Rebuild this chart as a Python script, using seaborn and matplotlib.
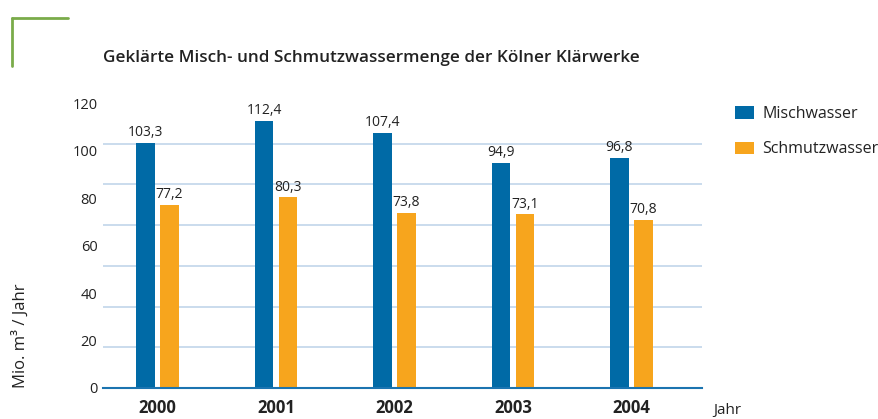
import numpy as np
import pandas as pd
import matplotlib
matplotlib.use('Agg')
import matplotlib.pyplot as plt
import seaborn as sns
from matplotlib.lines import Line2D

# chart values
years = ['2000', '2001', '2002', '2003', '2004']
mischwasser = [103.3, 112.4, 107.4, 94.9, 96.8]
schmutzwasser = [77.2, 80.3, 73.8, 73.1, 70.8]
series = ['Mischwasser', 'Schmutzwasser']
y_ticks = [0, 20, 40, 60, 80, 100, 120]

df = pd.DataFrame({
    'Jahr': years * 2,
    'Art': [series[0]] * len(years) + [series[1]] * len(years),
    'Wert': mischwasser + schmutzwasser,
})

sns.set_theme(style='white')
plt.rcParams['font.family'] = ['Open Sans', 'DejaVu Sans']
text_col = '#222222'

fig = plt.figure(figsize=(8.79, 4.19), dpi=100)
ax = fig.add_axes([0.1172, 0.074, 0.6814, 0.680])

colors = {'Mischwasser': '#006aa6', 'Schmutzwasser': '#f7a51d'}
sns.barplot(data=df, x='Jahr', y='Wert', hue='Art', palette=colors,
            width=0.405, gap=0.21, saturation=1, linewidth=0,
            ax=ax, legend=True)

ax.set_ylim(0, 120)
ax.set_xlim(-0.46, 4.595)

# the original's grid lines do not line up with the labels
ax.set_yticks(y_ticks)
ax.set_yticks(np.linspace(0, 120, 8), minor=True)
ax.grid(False)
ax.yaxis.grid(True, which='minor', color='#c6d9ec', linewidth=1.3)
ax.set_axisbelow(True)
ax.tick_params(axis='y', which='both', length=0, labelsize=10.5, labelcolor=text_col, pad=4)
ax.tick_params(axis='x', length=0, pad=8)
for lab in ax.get_xticklabels():
    lab.set_fontsize(12)
    lab.set_fontweight('bold')
    lab.set_color(text_col)
for lab in ax.get_yticklabels():
    lab.set_fontweight('medium')

for s in ['top', 'left', 'right']:
    ax.spines[s].set_visible(False)
ax.spines['bottom'].set_color('#1b74b0')
ax.spines['bottom'].set_linewidth(1.5)
ax.set_xlabel('')
ax.set_ylabel('')

for cont in ax.containers:
    labels = [f'{b.get_height():.1f}'.replace('.', ',') for b in cont]
    ax.bar_label(cont, labels=labels, padding=2, fontsize=10, color=text_col)

ax.legend(loc='upper left', bbox_to_anchor=(1.045, 1.012), frameon=False,
          fontsize=11.5, handlelength=1.2, handleheight=0.8, handletextpad=0.5,
          labelspacing=1.2, borderaxespad=0)
for t in ax.get_legend().get_texts():
    t.set_color(text_col)

fig.text(0.1172, 0.862, 'Geklärte Misch- und Schmutzwassermenge der Kölner Klärwerke',
         fontsize=12.35, fontweight='semibold', color=text_col, va='center', ha='left')
fig.text(0.023, 0.074, 'Mio. m³ / Jahr', rotation=90, fontsize=12,
         color=text_col, va='bottom', ha='center')
fig.text(0.811, 0.003, 'Jahr', fontsize=11, color=text_col, va='bottom', ha='left')

# green corner mark
green = '#7aab4a'
fig.add_artist(Line2D([12 / 879, 12 / 879], [1 - 66 / 419, 1 - 18 / 419],
                      color=green, linewidth=2, transform=fig.transFigure))
fig.add_artist(Line2D([12 / 879, 68 / 879], [1 - 18 / 419, 1 - 18 / 419],
                      color=green, linewidth=2, transform=fig.transFigure))

fig.savefig('out.png', dpi=100)
